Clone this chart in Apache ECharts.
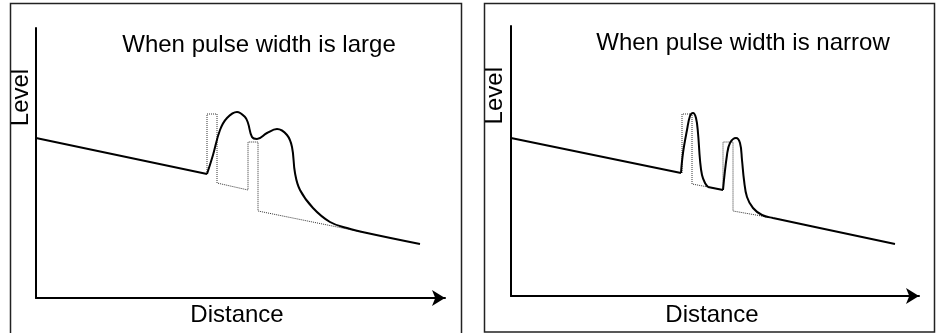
<!DOCTYPE html>
<html>
<head>
<meta charset="utf-8">
<script src="https://cdn.jsdelivr.net/npm/echarts@6/dist/echarts.min.js"></script>
<style>
  html, body { margin: 0; padding: 0; background: #fff; }
  #chart { width: 936px; height: 333px; }
</style>
</head>
<body>
<div id="chart"></div>
<script>
// values, [distance, level]
var wideBase = [[0, 160], [171, 124]];
var wideEcho = [[171, 124], [177, 143], [184, 168], [191, 180], [201, 186], [209, 181], [212, 175],
  [216, 161], [221, 159], [231, 165], [241, 169], [251, 163], [256, 151], [259, 125], [264, 108],
  [277, 90], [294, 76], [311, 70], [331, 65], [384, 54]];
var widePulse = [[171, 124], [171, 184], [181, 184], [181, 115], [212, 108], [212, 156],
  [222, 156], [222, 87], [331, 65]];

var narrowBase = [[0, 158], [170, 123]];
var narrowEcho1 = [[170, 123], [172, 143], [176, 166], [179, 180], [182, 183], [185, 178],
  [187, 163], [189, 136], [191, 121], [194, 113], [197, 109]];
var narrowGap = [[197, 109], [212, 106]];
var narrowEcho2 = [[212, 106], [216, 141], [219, 153], [225, 158], [229, 153], [231, 136],
  [233, 116], [236, 99], [242, 88], [251, 81], [262, 78], [384, 52]];
var narrowPulse = [[171, 123], [171, 182], [181, 182], [181, 112], [197, 109], [212, 106],
  [212, 154], [222, 154], [222, 85], [262, 78]];

var titles = ['When pulse width is large', 'When pulse width is narrow'];
var xName = 'Distance';
var yName = 'Level';

var myChart = echarts.init(document.getElementById('chart'));
var font = '24px "Liberation Sans", Arial, sans-serif';

var axisX = function (idx, max) {
  return {
    type: 'value', gridIndex: idx, min: 0, max: max,
    axisLine: { show: true, symbol: ['none', 'arrow'], symbolSize: [12, 13], lineStyle: { color: '#000', width: 2 } },
    axisTick: { show: false }, axisLabel: { show: false }, splitLine: { show: false }
  };
};
var axisY = function (idx) {
  return {
    type: 'value', gridIndex: idx, min: 0, max: 270,
    axisLine: { show: true, lineStyle: { color: '#000', width: 2 } },
    axisTick: { show: false }, axisLabel: { show: false }, splitLine: { show: false }
  };
};
var solid = function (idx, data, smooth) {
  return {
    type: 'line', xAxisIndex: idx, yAxisIndex: idx, data: data, smooth: smooth,
    symbol: 'none', z: 3, lineStyle: { color: '#000', width: 2 }
  };
};
var dotted = function (idx, data) {
  return {
    type: 'line', xAxisIndex: idx, yAxisIndex: idx, data: data,
    symbol: 'none', z: 2, lineStyle: { color: '#333', width: 1, type: 'dotted' }
  };
};
var text = function (str, x, y, rot) {
  return {
    type: 'text', x: x, y: y, rotation: rot || 0, z: 10,
    style: { text: str, font: font, fill: '#000', align: 'center', verticalAlign: 'middle' }
  };
};

myChart.setOption({
  animation: false,
  grid: [
    { left: 36, top: 28, width: 409, height: 270 },
    { left: 511, top: 26, width: 408, height: 270 }
  ],
  xAxis: [axisX(0, 409), axisX(1, 408)],
  yAxis: [axisY(0), axisY(1)],
  series: [
    dotted(0, widePulse),
    solid(0, wideBase, false),
    solid(0, wideEcho, 0.4),
    dotted(1, narrowPulse),
    solid(1, narrowBase, false),
    solid(1, narrowEcho1, 0.4),
    solid(1, narrowGap, false),
    solid(1, narrowEcho2, 0.4)
  ],
  graphic: [
    { type: 'rect', shape: { x: 10.5, y: 3.5, width: 451, height: 340 }, style: { fill: 'none', stroke: '#222', lineWidth: 1.5 } },
    { type: 'rect', shape: { x: 484.5, y: 3.5, width: 450, height: 328.5 }, style: { fill: 'none', stroke: '#222', lineWidth: 1.5 } },
    text(titles[0], 259, 45),
    text(titles[1], 743, 43),
    text(xName, 237, 315),
    text(xName, 712, 315),
    text(yName, 21.5, 97.5, Math.PI / 2),
    text(yName, 495, 95.7, Math.PI / 2)
  ]
});

window.addEventListener('resize', function () {
  myChart.resize();
});
</script>
</body>
</html>
